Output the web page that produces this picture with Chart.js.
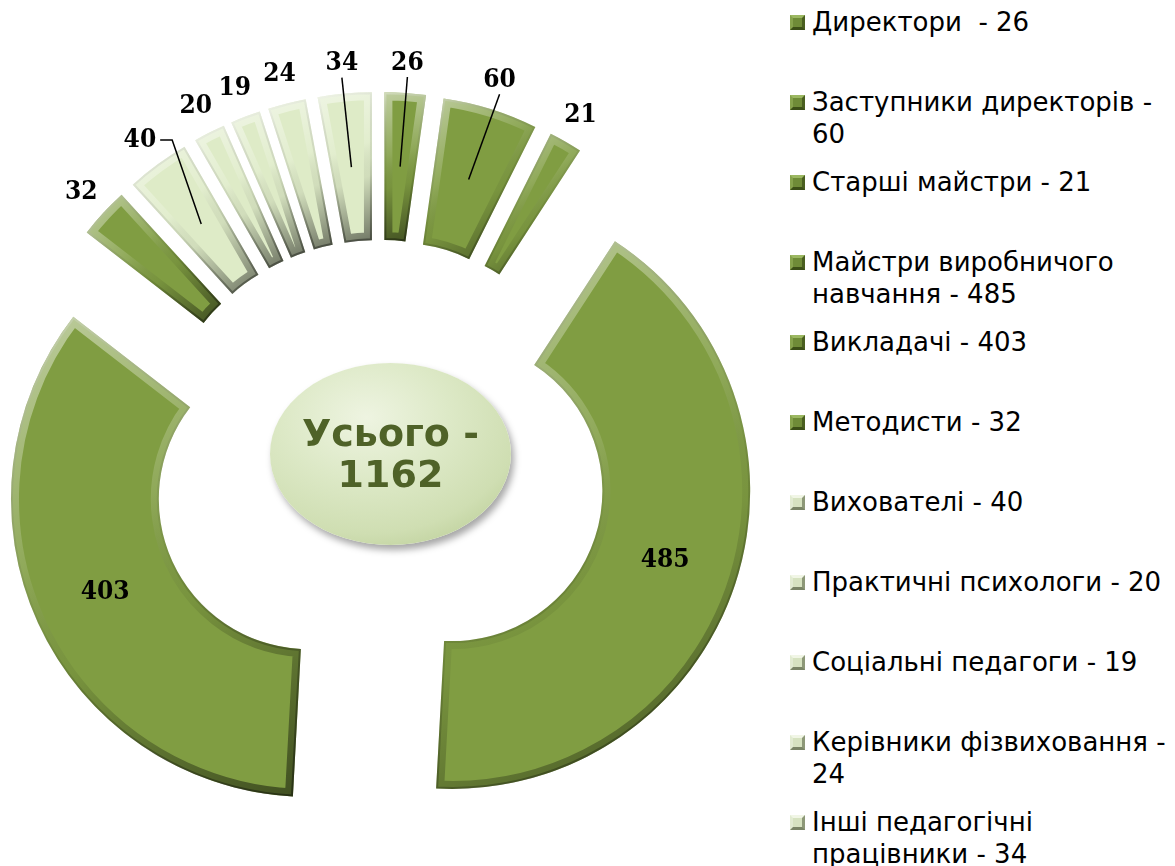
<!DOCTYPE html>
<html lang="uk">
<head>
<meta charset="utf-8">
<title>Педагогічні працівники</title>
<script src="https://cdn.jsdelivr.net/npm/chart.js@4.4.1/dist/chart.umd.min.js"></script>
<style>
  html, body { margin: 0; padding: 0; background: #fff; }
  body { width: 1175px; height: 866px; position: relative; overflow: hidden; }
  .chart-box { position: absolute; left: 0; top: 0; width: 780px; height: 866px; }
  .total {
    position: absolute; left: 270px; top: 363px; width: 241px; height: 182px;
    border-radius: 50%;
    background: radial-gradient(ellipse 75% 75% at 40% 30%, #eef4e1 0%, #dde9c7 45%, #cfdeb2 85%, #c3d4a2 100%);
    box-shadow: 3px 5px 7px rgba(0, 0, 0, 0.35);
    display: flex; align-items: center; justify-content: center; text-align: center;
    font: bold 38px "DejaVu Sans", Verdana, sans-serif; line-height: 41px; color: #4f6228;
  }
  #legend { position: absolute; left: 790px; top: 6px; width: 385px; }
  .item { height: 80px; display: flex; align-items: flex-start; }
  .swatch { width: 15px; height: 15px; box-sizing: border-box; border: 3px solid; margin-top: 9px; flex: none; }
  .swatch.dark { background: #6f8b38; border-color: #9cb862 #4a5f20 #3c4f18 #86a24c; }
  .swatch.light { background: #d6e2c0; border-color: #f1f6e6 #8d9878 #7a8566 #e2ebd2; }
  .text { margin-left: 7px; width: 364px; font: 26px "DejaVu Sans", Verdana, sans-serif; line-height: 32px; color: #000; white-space: pre-wrap; }
</style>
</head>
<body>
<div class="chart-box"><canvas id="chart"></canvas></div>
<div class="total" id="total"></div>
<div id="legend"></div>

<script>
const categories = [
  "Директори ",
  "Заступники директорів",
  "Старші майстри",
  "Майстри виробничого навчання",
  "Викладачі",
  "Методисти",
  "Вихователі",
  "Практичні психологи",
  "Соціальні педагоги",
  "Керівники фізвиховання",
  "Інші педагогічні працівники"
];
const counts = [26, 60, 21, 485, 403, 32, 40, 20, 19, 24, 34];
const totalText = "Усього - 1162";
// labels that Excel has pulled away with a leader line
const withLeader = [true, true, false, false, false, false, true, false, false, false, true];

const DARK = "#809d42";
const LIGHT = "#deebc7";
const EXPLODE = 77;

const sliceColor = (i) => (i < 6 ? DARK : LIGHT);

// push every slice out along its bisector, like an exploded Excel doughnut
const explodePlugin = {
  id: "explode",
  afterDatasetsUpdate(chart) {
    chart.getDatasetMeta(0).data.forEach((arc) => {
      const mid = (arc.startAngle + arc.endAngle) / 2;
      arc.x += Math.cos(mid) * EXPLODE;
      arc.y += Math.sin(mid) * EXPLODE;
    });
  }
};

// soft bevel: light on top-left edges, shadow on bottom-right edges
const bevelPlugin = {
  id: "bevel",
  afterDatasetsDraw(chart) {
    const ctx = chart.ctx;
    chart.getDatasetMeta(0).data.forEach((arc) => {
      const { x, y, startAngle, endAngle, innerRadius, outerRadius } = arc;
      let x0 = Infinity, y0 = Infinity, x1 = -Infinity, y1 = -Infinity;
      for (let k = 0; k <= 16; k++) {
        const a = startAngle + (endAngle - startAngle) * k / 16;
        [innerRadius, outerRadius].forEach((r) => {
          const px = x + Math.cos(a) * r, py = y + Math.sin(a) * r;
          x0 = Math.min(x0, px); y0 = Math.min(y0, py);
          x1 = Math.max(x1, px); y1 = Math.max(y1, py);
        });
      }
      ctx.save();
      ctx.beginPath();
      ctx.arc(x, y, outerRadius, startAngle, endAngle);
      ctx.arc(x, y, innerRadius, endAngle, startAngle, true);
      ctx.closePath();
      ctx.clip();
      ctx.lineJoin = "miter";

      const soft = ctx.createLinearGradient(x0, y0, x1, y1);
      soft.addColorStop(0, "rgba(255,255,255,0.5)");
      soft.addColorStop(0.4, "rgba(255,255,255,0.12)");
      soft.addColorStop(0.6, "rgba(0,0,0,0.06)");
      soft.addColorStop(1, "rgba(0,0,0,0.5)");
      ctx.strokeStyle = soft;
      ctx.lineWidth = 16;
      ctx.stroke();

      const hard = ctx.createLinearGradient(x0, y0, x1, y1);
      hard.addColorStop(0, "rgba(255,255,255,0.3)");
      hard.addColorStop(0.5, "rgba(0,0,0,0.05)");
      hard.addColorStop(1, "rgba(0,0,0,0.4)");
      ctx.strokeStyle = hard;
      ctx.lineWidth = 4;
      ctx.stroke();
      ctx.restore();
    });
  }
};

// value labels: inside for the two big slices, outside end for the rest
const labelPlugin = {
  id: "valueLabels",
  afterDatasetsDraw(chart) {
    const ctx = chart.ctx;
    const meta = chart.getDatasetMeta(0);
    ctx.save();
    ctx.font = "bold 26px 'DejaVu Serif Condensed', 'DejaVu Serif', serif";
    ctx.fillStyle = "#000";
    ctx.strokeStyle = "#000";
    ctx.lineWidth = 1.5;
    ctx.textAlign = "center";
    ctx.textBaseline = "middle";
    meta.data.forEach((arc, i) => {
      const text = String(counts[i]);
      const mid = (arc.startAngle + arc.endAngle) / 2;
      const centre = arc.getCenterPoint();
      if (arc.endAngle - arc.startAngle > 1) {
        ctx.fillText(text, centre.x, centre.y);
        return;
      }
      const r = arc.outerRadius + 30;
      const lx = arc.x + Math.cos(mid) * r;
      const ly = arc.y + Math.sin(mid) * r;
      ctx.fillText(text, lx, ly);
      if (withLeader[i]) {
        const w = ctx.measureText(text).width;
        const dx = centre.x - lx, dy = centre.y - ly;
        ctx.beginPath();
        if (Math.abs(dx) > Math.abs(dy) * 0.5) {
          const sx = lx + Math.sign(dx) * (w / 2 + 4);
          ctx.moveTo(sx, ly);
          ctx.lineTo(sx + Math.sign(dx) * 12, ly);
        } else {
          ctx.moveTo(lx, ly + 14);
        }
        ctx.lineTo(centre.x, centre.y);
        ctx.stroke();
      }
    });
    ctx.restore();
  }
};

const ctx = document.getElementById("chart").getContext("2d");
new Chart(ctx, {
  type: "doughnut",
  data: {
    labels: categories,
    datasets: [{
      data: counts,
      backgroundColor: counts.map((_, i) => sliceColor(i)),
      borderWidth: 0,
      clip: false
    }]
  },
  options: {
    responsive: true,
    maintainAspectRatio: false,
    animation: false,
    radius: 298,
    cutout: "50.4%",
    layout: { padding: { left: 0, right: 22, top: 68, bottom: 0 } },
    events: [],
    plugins: {
      legend: { display: false },
      tooltip: { enabled: false }
    }
  },
  plugins: [explodePlugin, bevelPlugin, labelPlugin]
});

document.getElementById("total").textContent = totalText;

const legend = document.getElementById("legend");
categories.forEach((name, i) => {
  const item = document.createElement("div");
  item.className = "item";
  const sw = document.createElement("span");
  sw.className = "swatch " + (i < 6 ? "dark" : "light");
  const tx = document.createElement("span");
  tx.className = "text";
  tx.textContent = name + " - " + counts[i];
  item.appendChild(sw);
  item.appendChild(tx);
  legend.appendChild(item);
});
</script>
</body>
</html>
